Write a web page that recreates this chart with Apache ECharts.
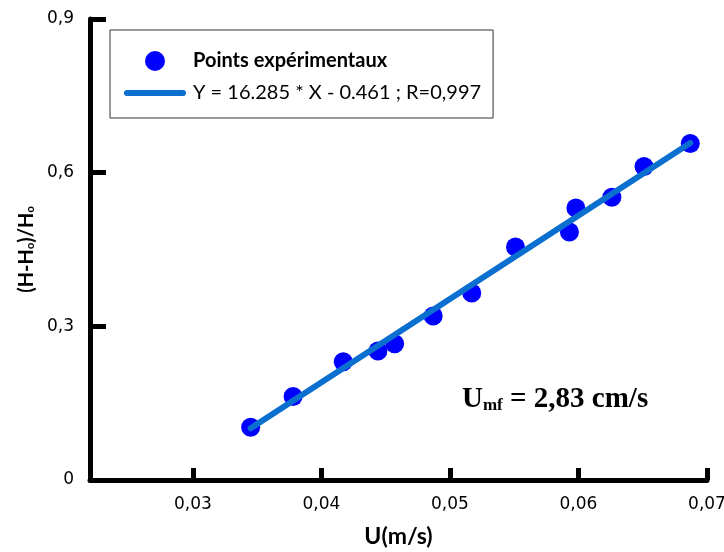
<!DOCTYPE html>
<html>
<head>
<meta charset="utf-8">
<script src="https://cdn.jsdelivr.net/npm/echarts@6/dist/echarts.min.js"></script>
<style>
  html, body { margin: 0; padding: 0; background: #fff; }
  #chart { width: 724px; height: 552px; }
</style>
</head>
<body>
<div id="chart"></div>
<script>
  // points expérimentaux
  const uValues = [0.0345, 0.0378, 0.0417, 0.0444, 0.0457, 0.0487, 0.0517, 0.0551, 0.0593, 0.0598, 0.0626, 0.0651, 0.0687]
  const hValues = [0.103, 0.163, 0.231, 0.252, 0.266, 0.320, 0.365, 0.455, 0.484, 0.531, 0.552, 0.612, 0.657]
  // droite de régression (extrémités lues)
  const fitU = [0.0345, 0.0687]
  const fitH = [0.101, 0.658]
  const xTicks = [0.03, 0.04, 0.05, 0.06, 0.07]
  const pointsName = 'Points expérimentaux'
  const fitName = 'Y = 16.285 * X - 0.461 ; R=0,997'

  const fmt = v => String(+v.toFixed(2)).replace('.', ',')
  const axisColor = '#000'
  const fitColor = '#0a6fcf'

  const chart = echarts.init(document.getElementById('chart'))
  chart.setOption({
    animation: false,
    grid: {
      left: 90,
      right: 17,
      top: 19,
      bottom: 72,
      containLabel: false,
      outerBoundsMode: 'none',
    },
    legend: {
      orient: 'vertical',
      left: 110,
      top: 30,
      padding: [21, 12, 15, 14],
      itemWidth: 56,
      itemHeight: 20,
      itemGap: 12,
      borderColor: '#333',
      borderWidth: 1,
      textStyle: {
        fontFamily: 'Lato',
        fontSize: 20,
        color: '#000',
        padding: [0, 0, 0, 5],
      },
      data: [
        { name: pointsName, textStyle: { fontWeight: 'bold' } },
        { name: fitName, itemStyle: { opacity: 0 }, lineStyle: { width: 6, color: fitColor, cap: 'round' } },
      ],
    },
    xAxis: {
      type: 'value',
      min: 0.022,
      max: 0.07,
      name: 'U(m/s)',
      nameLocation: 'middle',
      nameGap: 45,
      nameTextStyle: { fontFamily: 'Lato', fontWeight: 'bold', fontSize: 23, color: '#000' },
      axisLine: { lineStyle: { color: axisColor, width: 5 } },
      axisTick: { inside: true, length: 12, customValues: xTicks, lineStyle: { color: axisColor, width: 5 } },
      axisLabel: {
        customValues: xTicks,
        formatter: fmt,
        margin: 16,
        fontFamily: 'DejaVu Sans',
        fontSize: 17,
        color: '#000',
      },
      splitLine: { show: false },
    },
    yAxis: {
      type: 'value',
      min: 0,
      max: 0.9,
      interval: 0.3,
      name: '{a|(H-H}{b|o}{a|)/H}{b|o}',
      nameLocation: 'middle',
      nameRotate: 90,
      nameGap: 48,
      nameTextStyle: {
        fontFamily: 'Lato',
        fontWeight: 'bold',
        fontSize: 20,
        color: '#000',
        rich: {
          a: { fontFamily: 'Lato', fontWeight: 'bold', fontSize: 20, color: '#000' },
          b: { fontFamily: 'Lato', fontWeight: 'bold', fontSize: 11, color: '#000', verticalAlign: 'bottom', padding: [9, 0, 0, 0] },
        },
      },
      axisLine: { show: true, lineStyle: { color: axisColor, width: 5 } },
      axisTick: { show: true, inside: true, length: 16, lineStyle: { color: axisColor, width: 5 } },
      axisLabel: {
        formatter: fmt,
        margin: 16,
        fontFamily: 'DejaVu Sans',
        fontSize: 17,
        color: '#000',
      },
      splitLine: { show: false },
    },
    graphic: [
      {
        type: 'text',
        left: 462,
        top: 385,
        style: {
          text: '{u|U}{s|mf}{u| = 2,83 cm/s}',
          rich: {
            u: { fontFamily: 'Liberation Serif', fontWeight: 'bold', fontSize: 29, fill: '#000' },
            s: { fontFamily: 'Liberation Serif', fontWeight: 'bold', fontSize: 17, fill: '#000', verticalAlign: 'bottom', padding: [10, 0, 0, 0] },
          },
        },
      },
    ],
    series: [
      {
        name: pointsName,
        type: 'scatter',
        symbol: 'circle',
        symbolSize: 19,
        itemStyle: { color: '#0000ff', opacity: 1 },
        data: uValues.map((u, i) => [u, hValues[i]]),
        z: 2,
      },
      {
        name: fitName,
        type: 'line',
        symbol: 'none',
        showSymbol: false,
        lineStyle: { color: fitColor, width: 6, cap: 'round' },
        itemStyle: { color: fitColor },
        data: fitU.map((u, i) => [u, fitH[i]]),
        z: 3,
      },
    ],
  })
</script>
</body>
</html>
